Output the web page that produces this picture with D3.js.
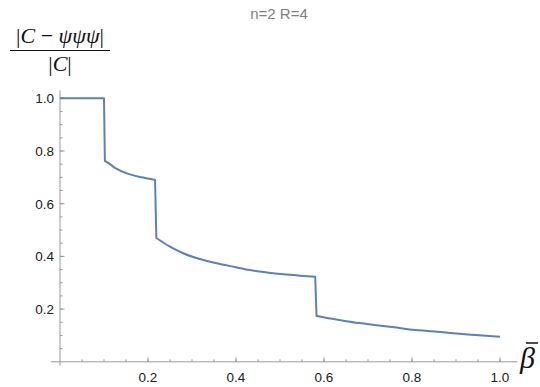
<!DOCTYPE html>
<html><head><meta charset="utf-8">
<script src="https://cdn.jsdelivr.net/npm/d3@7"></script>
<style>body{margin:0;background:#fff}svg{display:block}</style>
</head><body>
<svg id="c" width="540" height="387"></svg>
<script>
const betaValues = [0, 0.05, 0.100, 0.102, 0.106, 0.125, 0.155, 0.186, 0.216, 0.219, 0.250, 0.280, 0.320, 0.356, 0.400, 0.432, 0.470, 0.508, 0.545, 0.580, 0.583, 0.615, 0.644, 0.680, 0.720, 0.760, 0.795, 0.835, 0.871, 0.935, 1.0];
const ratioValues = [1.0, 1.0, 1.0, 0.762, 0.759, 0.736, 0.713, 0.700, 0.690, 0.470, 0.437, 0.412, 0.389, 0.374, 0.359, 0.348, 0.339, 0.332, 0.327, 0.323, 0.174, 0.164, 0.156, 0.147, 0.139, 0.131, 0.123, 0.117, 0.112, 0.103, 0.095];
const xTicks = [0.2, 0.4, 0.6, 0.8, 1.0];
const yTicks = [0.2, 0.4, 0.6, 0.8, 1.0];
const titleText = "n=2 R=4";

const svg = d3.select("#c");
const x = d3.scaleLinear().domain([0, 1]).range([60, 500]);
const y = d3.scaleLinear().domain([0, 1]).range([361.8, 98.3]);
const axisColor = "#9a9a9a";

// axes lines
svg.append("line").attr("x1", x(-0.02)).attr("x2", x(1.04)).attr("y1", y(0)).attr("y2", y(0)).attr("stroke", axisColor).attr("stroke-width", 1);
svg.append("line").attr("x1", x(0)).attr("x2", x(0)).attr("y1", y(-0.015)).attr("y2", y(1.03)).attr("stroke", axisColor).attr("stroke-width", 1);

// minor ticks
const minor = d3.range(0.05, 1.0001, 0.05);
svg.append("g").selectAll("line").data(minor).join("line")
  .attr("x1", d => x(d)).attr("x2", d => x(d))
  .attr("y1", y(0)).attr("y2", y(0) - 2.5).attr("stroke", axisColor);
svg.append("g").selectAll("line").data(minor).join("line")
  .attr("y1", d => y(d)).attr("y2", d => y(d))
  .attr("x1", x(0)).attr("x2", x(0) + 2.5).attr("stroke", axisColor);
// major ticks
svg.append("g").selectAll("line").data(xTicks).join("line")
  .attr("x1", d => x(d)).attr("x2", d => x(d))
  .attr("y1", y(0)).attr("y2", y(0) - 4.5).attr("stroke", axisColor);
svg.append("g").selectAll("line").data(yTicks).join("line")
  .attr("y1", d => y(d)).attr("y2", d => y(d))
  .attr("x1", x(0)).attr("x2", x(0) + 4.5).attr("stroke", axisColor);

// tick labels
const fmt = d3.format(".1f");
svg.append("g").selectAll("text").data(xTicks).join("text")
  .attr("x", d => x(d)).attr("y", y(0) + 20)
  .attr("text-anchor", "middle").attr("font-family", "Liberation Sans, Arial, sans-serif")
  .attr("font-size", 13.5).attr("fill", "#222").text(d => fmt(d));
svg.append("g").selectAll("text").data(yTicks).join("text")
  .attr("x", x(0) - 6).attr("y", d => y(d) + 5)
  .attr("text-anchor", "end").attr("font-family", "Liberation Sans, Arial, sans-serif")
  .attr("font-size", 13.5).attr("fill", "#222").text(d => fmt(d));

// line: smooth pieces joined by straight drops
const pts = betaValues.map((b, i) => [b, ratioValues[i]]);
const pieces = [];
let cur = [pts[0]];
for (let i = 1; i < pts.length; i++) {
  if (pts[i - 1][1] - pts[i][1] > 0.1) { pieces.push(cur); cur = []; }
  cur.push(pts[i]);
}
pieces.push(cur);
const lineGen = d3.line().x(d => x(d[0])).y(d => y(d[1])).curve(d3.curveMonotoneX);
const dStr = pieces.map((p, i) => { const s = lineGen(p); return i === 0 ? s : "L" + s.slice(1); }).join("");
svg.append("path").attr("d", dStr)
  .attr("fill", "none").attr("stroke", "#5e81b5").attr("stroke-width", 2).attr("stroke-linejoin", "round");

// title
svg.append("text").attr("x", 279).attr("y", 19).attr("text-anchor", "middle")
  .attr("font-family", "Liberation Sans, Arial, sans-serif").attr("font-size", 15).attr("fill", "#808080").text(titleText);

// y label (fraction)
const serif = "Liberation Serif, DejaVu Serif, serif";
const num = svg.append("text").attr("x", 60).attr("y", 43).attr("text-anchor", "middle")
  .attr("font-family", serif).attr("font-size", 22).attr("fill", "#111");
num.append("tspan").text("|");
num.append("tspan").attr("font-style", "italic").text("C");
num.append("tspan").text(" \u2212 ");
num.append("tspan").attr("font-style", "italic").text("\u03c8\u03c8\u03c8");
num.append("tspan").text("|");
svg.append("line").attr("x1", 10).attr("x2", 110).attr("y1", 50.5).attr("y2", 50.5).attr("stroke", "#111").attr("stroke-width", 1);
const den = svg.append("text").attr("x", 60).attr("y", 71).attr("text-anchor", "middle")
  .attr("font-family", serif).attr("font-size", 22).attr("fill", "#111");
den.append("tspan").text("|");
den.append("tspan").attr("font-style", "italic").text("C");
den.append("tspan").text("|");

// x label beta-bar
svg.append("text").attr("x", 520).attr("y", 368).attr("font-family", serif).attr("font-style", "italic")
  .attr("font-size", 30).attr("fill", "#111").text("\u03b2");
svg.append("line").attr("x1", 526).attr("x2", 538).attr("y1", 343).attr("y2", 343).attr("stroke", "#111").attr("stroke-width", 1.5);
</script>
</body></html>
